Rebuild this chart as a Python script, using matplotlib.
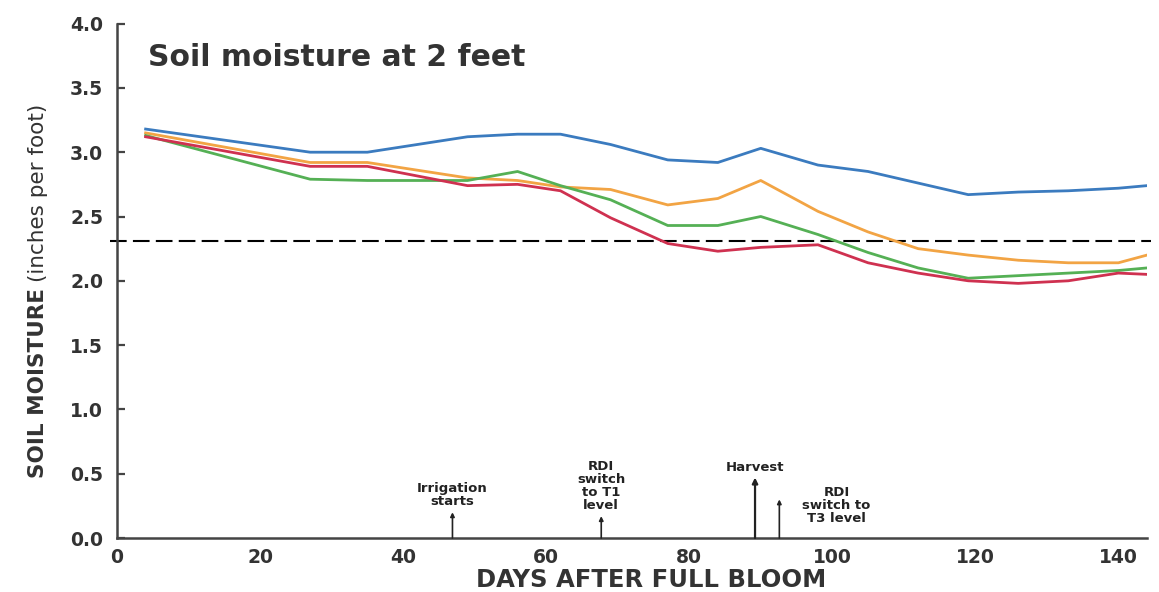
import matplotlib
matplotlib.use("Agg")
import matplotlib.pyplot as plt

days = [4, 27, 35, 49, 56, 62, 69, 77, 84, 90, 98, 105, 112, 119, 126, 133, 140, 144]
blue = [3.18, 3.00, 3.00, 3.12, 3.14, 3.14, 3.06, 2.94, 2.92, 3.03, 2.90, 2.85, 2.76, 2.67, 2.69, 2.70, 2.72, 2.74]
orange = [3.15, 2.92, 2.92, 2.80, 2.78, 2.73, 2.71, 2.59, 2.64, 2.78, 2.54, 2.38, 2.25, 2.20, 2.16, 2.14, 2.14, 2.20]
green = [3.13, 2.79, 2.78, 2.78, 2.85, 2.74, 2.63, 2.43, 2.43, 2.50, 2.36, 2.22, 2.10, 2.02, 2.04, 2.06, 2.08, 2.10]
red = [3.12, 2.89, 2.89, 2.74, 2.75, 2.70, 2.49, 2.29, 2.23, 2.26, 2.28, 2.14, 2.06, 2.00, 1.98, 2.00, 2.06, 2.05]
threshold = 2.31

x_ticks = [0, 20, 40, 60, 80, 100, 120, 140]
y_ticks = [0.0, 0.5, 1.0, 1.5, 2.0, 2.5, 3.0, 3.5, 4.0]

events = [
    ("Irrigation\nstarts", 46.9, 0.20),
    ("RDI\nswitch\nto T1\nlevel", 67.7, 0.17),
    ("Harvest", 89.2, 0.47),
    ("RDI\nswitch to\nT3 level", 92.6, 0.30),
]

FONT = "DejaVu Sans"
dark = "#333333"

fig = plt.figure(figsize=(11.59, 5.92), dpi=100)
W, H = 1159, 592
ax = fig.add_axes([117 / W, 1 - 538 / H, (1147 - 117) / W, (538 - 23.6) / H])

lw = 2.0
ax.plot(days, blue, color="#3b7bbf", lw=lw, zorder=3)
ax.plot(days, orange, color="#f2a444", lw=lw, zorder=3)
ax.plot(days, green, color="#55b055", lw=lw, zorder=3)
ax.plot(days, red, color="#cf3150", lw=lw, zorder=3)

ax.plot([-1, 144.5], [threshold, threshold], color="black", lw=1.5,
        dashes=(8, 3), clip_on=False, zorder=2)

ax.set_xlim(0, 144)
ax.set_ylim(0, 4.0)
ax.set_xticks(x_ticks)
ax.set_yticks(y_ticks)
ax.set_xticklabels([str(v) for v in x_ticks])
ax.set_yticklabels([f"{v:.1f}" for v in y_ticks])

for s in ["top", "right"]:
    ax.spines[s].set_visible(False)
for s in ["left", "bottom"]:
    ax.spines[s].set_color("#444444")
    ax.spines[s].set_linewidth(1.8)

ax.tick_params(axis="y", direction="in", length=6, width=1.6, color="#444444",
               pad=10, labelsize=13.5, labelcolor=dark)
ax.tick_params(axis="x", length=0, pad=7, labelsize=13.5, labelcolor=dark)
for lab in ax.get_xticklabels() + ax.get_yticklabels():
    lab.set_fontfamily(FONT)
    lab.set_fontweight("bold")

# title inside plot
fig.text(148 / W, 1 - 58 / H, "Soil moisture at 2 feet",
         fontsize=21.5, fontweight="bold", family=FONT, color=dark, va="center", ha="left")

# x label
fig.text(651 / W, 1 - 580 / H, "DAYS AFTER FULL BLOOM", fontsize=17.5,
         fontweight="bold", family=FONT, color=dark, ha="center", va="center")

# y label in two parts
fig.canvas.draw()
renderer = fig.canvas.get_renderer()
t1 = fig.text(38 / W, 1 - 478 / H, "SOIL MOISTURE", fontsize=15.5, fontweight="bold",
              family=FONT, color=dark, rotation=90, rotation_mode="anchor",
              ha="left", va="center")
bb = t1.get_window_extent(renderer)
t2 = fig.text(38 / W, (bb.y1 + 6) / H, "(inches per foot)", fontsize=15.5,
              fontweight="normal", family=FONT, color=dark, rotation=90,
              rotation_mode="anchor", ha="left", va="center")

# event annotations
for label, xd, tip in events:
    if label.startswith("Harvest"):
        ax.annotate("", xy=(xd, tip), xytext=(xd, 0),
                    arrowprops=dict(arrowstyle="-|>", color="#222222", lw=1.6,
                                    mutation_scale=8, shrinkA=0, shrinkB=0))
        ax.text(xd, tip + 0.03, label, ha="center", va="bottom", fontsize=9.5,
                fontweight="bold", family=FONT, color="#222222")
    elif label.startswith("RDI\nswitch to"):
        ax.annotate("", xy=(xd, tip), xytext=(xd, 0),
                    arrowprops=dict(arrowstyle="-|>", color="#222222", lw=1.2,
                                    mutation_scale=6, shrinkA=0, shrinkB=0))
        ax.text(100.6, 0.255, label, ha="center", va="center", fontsize=9.5,
                fontweight="bold", family=FONT, color="#222222", linespacing=1.0)
    else:
        ax.annotate("", xy=(xd, tip), xytext=(xd, 0),
                    arrowprops=dict(arrowstyle="-|>", color="#222222", lw=1.2,
                                    mutation_scale=6, shrinkA=0, shrinkB=0))
        ax.text(xd, tip + 0.03, label, ha="center", va="bottom", fontsize=9.5,
                fontweight="bold", family=FONT, color="#222222", linespacing=1.0)

fig.savefig("out.png", dpi=100, facecolor="white")
